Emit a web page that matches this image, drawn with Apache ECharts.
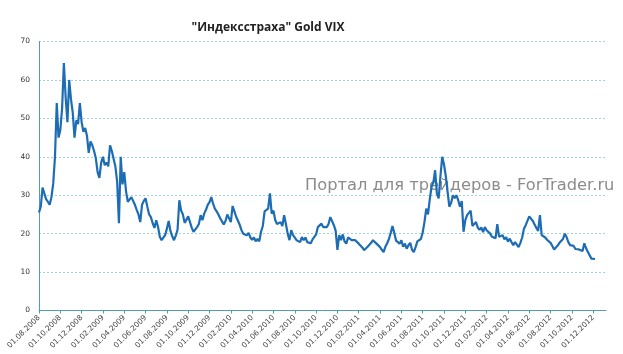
<!DOCTYPE html>
<html>
<head>
<meta charset="utf-8">
<script src="https://cdn.jsdelivr.net/npm/echarts@6/dist/echarts.min.js"></script>
<style>html,body{margin:0;padding:0;background:#fff;}#c{width:623px;height:354px;}</style>
</head>
<body>
<div id="c"></div>
<script>
// Tick labels (every 2 months)
var tickLabels = ['01.08.2008','01.10.2008','01.12.2008','01.02.2009','01.04.2009','01.06.2009','01.08.2009','01.10.2009','01.12.2009',
  '01.02.2010','01.04.2010','01.06.2010','01.08.2010','01.10.2010','01.12.2010','01.02.2011','01.04.2011','01.06.2011','01.08.2011',
  '01.10.2011','01.12.2011','01.02.2012','01.04.2012','01.06.2012','01.08.2012','01.10.2012','01.12.2012'];
// samples per month (about every 5 days starting 01.08.2008)
var samplesPerMonth = 6;
var vix = [
25.5,27,32,31.5,29,28.3,27.5,29.5,33,40,54,45,47,52.5,64.4,55.5,49,60,55,51.5,
45,49.5,48.5,54,49,46.5,47.5,45.5,41,44,43,41.5,39.6,36,34.5,38.5,40,37.8,38.5,37.5,
43,41.5,41.5,37.5,33.5,22.7,40,32.8,36,31,28.3,28,29.5,30,27.5,26.2,25,23,27.5,28.5,
29.2,27,25,24.3,22.7,21.5,23.5,21.8,19.2,18.3,17.8,19.6,21.3,23.3,20.7,19.3,18.3,19.5,21,28.7,
26,25,22.8,22.5,24.5,24,21.5,20.5,20.9,21.7,22.5,24.8,23.5,25.2,26.2,27.5,28.2,29.5,27.8,26.5,
25.8,25,24,23.2,22.4,23.3,25,25,23,27.2,25.8,24.4,23.9,22.3,20.9,20,20.3,19.6,20.2,19,
18.4,19,18,18.6,18,20.5,22,25.8,25.6,26.5,30.5,25.2,26,23.5,22.5,22.5,23,22,24.8,22.5,
20,18.3,20.9,19.6,19.1,18.3,18.7,17.8,19.1,18.3,19,17.8,18.3,17.5,18.5,19,19.8,21.7,21.3,22.6,
21.7,21.3,21.7,22.5,24.3,23.8,22.2,20.8,15.8,19.6,18.3,19.8,18,17.4,19,18.7,18.3,18.7,18.3,17.8,
17.4,17.6,16.4,15.7,16,16.6,16.5,17.6,18.3,18.7,17.4,17,16.5,15.8,15.2,16.6,17.5,18.6,20.2,22,
20.2,18.2,18.3,17.4,18.3,16.6,17.4,16.1,17,17.6,15.8,15.2,16.5,18,17.9,18.6,20.3,23,26.5,25,
29,32.2,33.3,36.5,30.4,29.2,35,40,38,35,31,27,28,30,29.2,30,28.7,27,28.5,20.5,
23.5,24.8,24.5,26,22,21.5,23,21.6,21,21.6,20.4,21.7,20.9,21.2,20,19.2,19.5,18.8,22.5,19.2,
19.5,19.6,18.5,19.1,17.9,18.7,17.8,17,17.8,17.3,16.5,17.6,19,21.3,22.2,22.5,24.5,24.5,23.3,23.2,
21.5,20.7,24.8,19.6,20,19,18.4,18.5,17.6,16.8,15.9,16.2,16.9,17.6,17.1,18.6,20,19.1,17.8,17,
16.6,16.8,16,15.8,15.9,15.4,15.5,17.5,16.2,15.2,14.8,13.5,13.1,13.4
];
var titleText = '"Индексстраха" Gold VIX';
var watermark = 'Портал для трейдеров - ForTrader.ru';

var seriesData = vix.map(function (v, i) { return [i / samplesPerMonth, v]; });

var chart = echarts.init(document.getElementById('c'), null, {renderer: 'canvas'});
chart.setOption({
  animation: false,
  backgroundColor: '#ffffff',
  title: {
    text: titleText,
    left: 263,
    top: 17,
    textAlign: 'center',
    textStyle: {fontFamily: 'Open Sans', fontWeight: 'bold', fontSize: 12, color: '#222'}
  },
  grid: {left: 39, right: 17, top: 41.5, bottom: 43.5, containLabel: false},
  xAxis: {
    type: 'value',
    min: 0,
    max: 53.2,
    interval: 2,
    axisLine: {lineStyle: {color: '#4f9fb2', width: 1}},
    axisTick: {show: true, length: 3, lineStyle: {color: '#4f9fb2'}},
    splitLine: {show: false},
    axisLabel: {
      rotate: 45,
      fontSize: 7.5,
      color: '#444',
      fontFamily: 'DejaVu Sans',
      margin: 6,
      showMaxLabel: false,
      formatter: function (v) {
        var k = Math.round(v / 2);
        return (Math.abs(v - k * 2) < 1e-6 && tickLabels[k]) ? tickLabels[k] : '';
      }
    }
  },
  yAxis: {
    type: 'value',
    min: 0,
    max: 70,
    interval: 10,
    axisLine: {show: true, lineStyle: {color: '#4f9fb2', width: 1}},
    axisTick: {show: false},
    axisLabel: {fontSize: 7.5, color: '#333', fontFamily: 'DejaVu Sans', margin: 9},
    splitLine: {show: true, lineStyle: {color: '#9fd4de', type: [2, 2], width: 1}}
  },
  graphic: [{
    type: 'text',
    left: 305,
    top: 178,
    z: 0,
    style: {text: watermark, fill: '#8c8c8c', font: '16.3px "DejaVu Sans"'}
  }],
  series: [{
    type: 'line',
    data: seriesData,
    showSymbol: false,
    symbol: 'none',
    z: 5,
    lineStyle: {color: '#1d6db4', width: 2.2},
    itemStyle: {color: '#1d6db4'}
  }]
});
</script>
</body>
</html>
